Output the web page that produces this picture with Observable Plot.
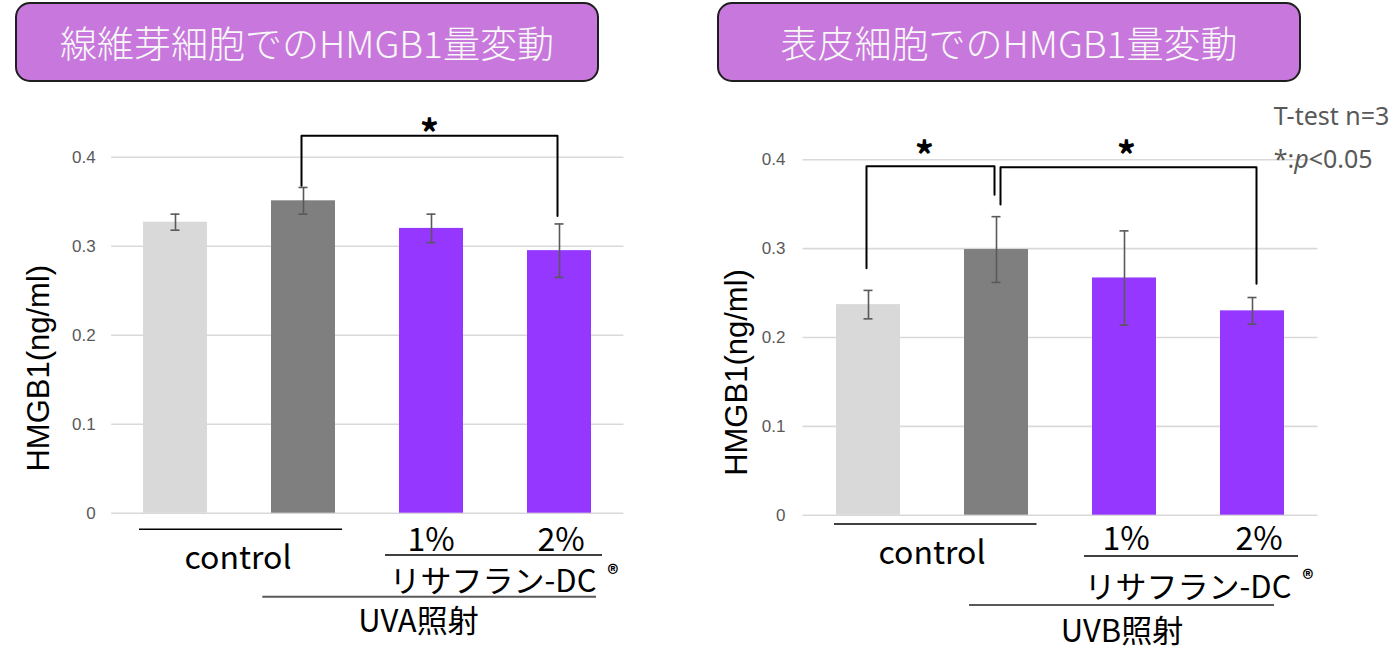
<!DOCTYPE html>
<html>
<head>
<meta charset="utf-8">
<script src="https://cdn.jsdelivr.net/npm/d3@7"></script>
<script src="https://cdn.jsdelivr.net/npm/@observablehq/plot@0.6"></script>
<style>
  html, body { margin: 0; padding: 0; background: #fff; }
  body { width: 1396px; height: 671px; overflow: hidden; font-family: "Noto Sans CJK JP", sans-serif; }
  #wrap { position: relative; width: 1396px; height: 671px; }
  .col { position: absolute; top: 0; width: 698px; height: 671px; }
  .title {
    position: absolute; top: 2px; height: 80px; width: 584px; box-sizing: border-box;
    background: #c878dc; border: 2px solid #1e1e1e; border-radius: 15px;
    color: #f8f8f8; font-size: 37px; font-weight: 300; font-family: "Noto Sans CJK JP", sans-serif;
    display: flex; align-items: center; justify-content: center; white-space: nowrap;
  }
  .chart { position: absolute; top: 90px; left: 0; }
</style>
</head>
<body>
<div id="wrap">
  <div class="col" id="colL" style="left:0px"><div class="title" style="left:15px">線維芽細胞でのHMGB1量変動</div></div>
  <div class="col" id="colR" style="left:698px"><div class="title" style="left:19px">表皮細胞でのHMGB1量変動</div></div>
</div>
<script>
// ---- data ----
const categories = ["control", "UV control", "1%", "2%"];
const barColors = ["#d9d9d9", "#7f7f7f", "#9537ff", "#9537ff"];
const yTicks = [0, 0.1, 0.2, 0.3, 0.4];
const yLabel = "HMGB1(ng/ml)";

const fibroMean = [0.327, 0.351, 0.320, 0.295];
const fibroErr  = [0.009, 0.015, 0.016, 0.030];
const epiMean   = [0.237, 0.299, 0.267, 0.230];
const epiErr    = [0.016, 0.037, 0.053, 0.015];

// significance brackets (data units)
const fibroBrackets = [{from: "UV control", to: "2%", top: 0.424, fromEnd: 0.368, toEnd: 0.334, star: 0.4366}];
const epiBrackets = [
  {from: "control", to: "UV control", top: 0.3928, fromEnd: 0.278, toEnd: 0.3606, star: 0.4142},
  {from: "UV control", to: "2%", top: 0.3917, fromEnd: 0.3497, toEnd: 0.2604, star: 0.4142}
];

const pctLabels = ["1%", "2%"];
const drugLabel = "リサフラン-DC";
const controlLabel = "control";
const fibroUV = "UVA照射";
const epiUV = "UVB照射";
const testNote = "T-test n=3";

function bracketPoints(b) {
  return [
    {x: b.from, y: b.fromEnd}, {x: b.from, y: b.top},
    {x: b.to, y: b.top}, {x: b.to, y: b.toEnd}
  ];
}

function makeChart(means, errs, opts) {
  const data = categories.map((c, i) => ({
    cat: c, mean: means[i], lo: means[i] - errs[i], hi: means[i] + errs[i], color: barColors[i]
  }));
  const marks = [
    Plot.ruleY(yTicks, {stroke: "#d9d9d9", strokeWidth: 1.6}),
    Plot.barY(data, {x: "cat", y: "mean", fill: "color"}),
    Plot.ruleX(data, {x: "cat", y1: "lo", y2: "hi", stroke: "#595959", strokeWidth: 1.6}),
    Plot.tickY(data, {x: "cat", y: "lo", stroke: "#595959", strokeWidth: 1.6, insetLeft: 27.5, insetRight: 27.5}),
    Plot.tickY(data, {x: "cat", y: "hi", stroke: "#595959", strokeWidth: 1.6, insetLeft: 27.5, insetRight: 27.5}),
    Plot.axisY({ticks: yTicks, tickSize: 0, tickPadding: opts.tickPad, tickFormat: d => `${d}`,
      fontSize: 17, color: "#595959", label: null}),
    Plot.text([yLabel], {text: d => d, frameAnchor: "left", textAnchor: "middle", rotate: -90,
      dx: opts.labelDx, dy: opts.labelDy,
      fontSize: 31, fill: "#000", fontFamily: "'Liberation Sans', Arial, sans-serif"})
  ];
  opts.brackets.forEach((b, i) => {
    marks.push(Plot.line(bracketPoints(b), {x: "x", y: "y", stroke: "#000", strokeWidth: 2, dx: opts.bracketDx[i]}));
    const at = opts.starAt[i];
    marks.push(Plot.text([b], {x: () => at, y: "star", text: () => "*", dx: opts.starDx[i], dy: 11,
      fontSize: 38, fontWeight: "bold", fill: "#000", fontFamily: "'Noto Sans CJK JP', sans-serif"}));
  });
  return Plot.plot({
    width: 698, height: 581,
    marginLeft: opts.ml, marginRight: opts.mr, marginTop: opts.mt, marginBottom: opts.mb,
    x: {domain: categories, paddingInner: 0.5, paddingOuter: 0.25, axis: null},
    y: {domain: [0, 0.4]},
    color: {type: "identity"},
    style: {fontFamily: "'Liberation Sans', Arial, sans-serif", fontSize: "17px", overflow: "visible", background: "transparent"},
    marks
  });
}

function addGroupLabels(chart, g) {
  const xs = chart.scale("x");
  const bw = xs.bandwidth;
  const s = c => xs.apply(c), e = c => xs.apply(c) + bw, m = c => xs.apply(c) + bw / 2;
  const svg = d3.select(chart);
  const layer = svg.append("g").attr("font-family", "'Noto Sans CJK JP', sans-serif");
  const line = (x1, x2, y, color, w) => layer.append("line").attr("x1", x1).attr("x2", x2)
    .attr("y1", y).attr("y2", y).attr("stroke", color).attr("stroke-width", w);
  const text = (t, x, y, size, anchor = "middle") => layer.append("text").text(t)
    .attr("x", x).attr("y", y).attr("font-size", size).attr("text-anchor", anchor)
    .attr("dominant-baseline", "central").attr("fill", "#000");
  const [c0, c1, c2, c3] = categories;
  line(s(c0) + g.ctrlL, e(c1) + g.ctrlR, g.ctrlLineY, "#000", 1.6);
  text(controlLabel, (m(c0) + m(c1)) / 2 + g.ctrlDx, g.ctrlY, 32);
  text(pctLabels[0], m(c2) + g.p1Dx, g.pctY, 32);
  text(pctLabels[1], m(c3) + g.p2Dx, g.pctY, 32);
  line(s(c2) + g.drugL, e(c3) + g.drugR, g.drugLineY, "#000", 1.6);
  text(drugLabel, (m(c2) + m(c3)) / 2 + g.drugDx, g.drugY, 31);
  text("®", e(c3) + g.regDx, g.regY, 22).attr("font-weight", "bold");
  line(s(c1) + g.uvL, e(c3) + g.uvR, g.uvLineY, "#595959", 2);
  text(g.uv, m(c2) + g.uvDx, g.uvY, 31);
}

const left = makeChart(fibroMean, fibroErr, {
  ml: 111.2, mr: 74.6, mt: 66.7, mb: 158.3, tickPad: 16,
  labelDx: -73, labelDy: 33,
  brackets: fibroBrackets, bracketDx: [-2], starAt: ["1%"], starDx: [-2]
});
left.classList.add("chart");
document.getElementById("colL").appendChild(left);
addGroupLabels(left, {
  ctrlL: -4, ctrlR: 7, ctrlLineY: 439.3, ctrlDx: -1, ctrlY: 465,
  p1Dx: 0, p2Dx: 2, pctY: 447,
  drugL: -14, drugR: 11, drugLineY: 465, drugDx: -2, drugY: 488,
  regDx: 22, regY: 481.7,
  uvL: -8.7, uvR: 5, uvLineY: 506.7, uv: fibroUV, uvDx: -12.5, uvY: 528
});

const right = makeChart(epiMean, epiErr, {
  ml: 104.5, mr: 78.5, mt: 69.3, mb: 156.3, tickPad: 17.5,
  labelDx: -65.5, labelDy: 35,
  brackets: epiBrackets, bracketDx: [-2, 4], starAt: ["control", "1%"], starDx: [56, 2]
});
right.classList.add("chart");
document.getElementById("colR").appendChild(right);
addGroupLabels(right, {
  ctrlL: -2, ctrlR: 8.5, ctrlLineY: 434, ctrlDx: 0, ctrlY: 460,
  p1Dx: 2, p2Dx: 7, pctY: 446,
  drugL: -8, drugR: 14, drugLineY: 466, drugDx: 0, drugY: 494,
  regDx: 24, regY: 487,
  uvL: 5, uvR: -10, uvLineY: 515, uv: epiUV, uvDx: -2, uvY: 538
});

// test note (top right)
{
  const note = d3.select(right).append("g").attr("font-family", "'Noto Sans', sans-serif")
    .attr("font-size", 25).attr("fill", "#595959").attr("text-anchor", "start");
  note.append("text").attr("x", 575.7).attr("y", 25).attr("dominant-baseline", "central").text(testNote);
  const t2 = note.append("text").attr("x", 575.7).attr("y", 68).attr("dominant-baseline", "central");
  t2.append("tspan").text("*:");
  t2.append("tspan").attr("font-style", "italic").text("p");
  t2.append("tspan").text("<0.05");
}
</script>
</body>
</html>
